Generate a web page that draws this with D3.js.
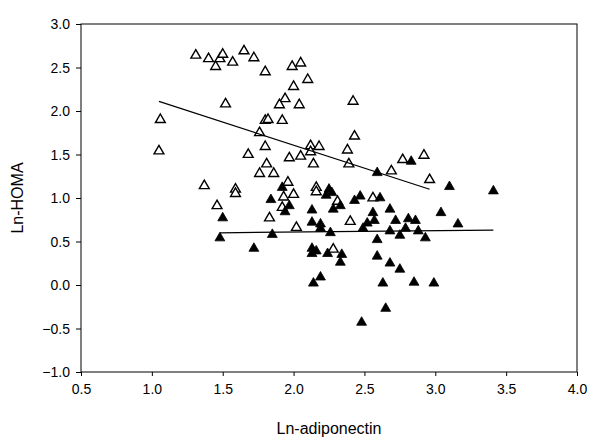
<!DOCTYPE html>
<html lang="en">
<head>
	<meta charset="UTF-8">
	<title>Ln-HOMA vs Ln-adiponectin</title>
	<script src="https://d3js.org/d3.v7.min.js"></script>
	<style>
		* { margin: 0px; padding: 0px; }
		body { background: #fff; }
		text { font-family: Arial, "Liberation Sans", sans-serif; fill: #000; }
	</style>
</head>
<body>
	<svg width="600" height="444"></svg>
	<script>
		// open triangles (upper group)
		var openX = [1.31, 1.40, 1.45, 1.48, 1.50, 1.57, 1.65, 1.72, 1.80, 1.99, 2.05, 2.10, 2.00, 1.94, 1.90,
			2.04, 1.52, 1.06, 1.05, 1.80, 1.82, 1.92, 1.76, 1.80, 1.68, 1.97, 1.81, 1.76, 1.86, 2.42,
			2.43, 2.12, 2.18, 2.12, 2.05, 2.14, 2.38, 2.39, 2.77, 2.92, 2.69, 2.96, 1.37, 1.59, 1.59,
			1.96, 1.93, 2.00, 2.16, 2.16, 2.31, 2.56, 1.46, 1.92, 1.83, 2.02, 2.40, 2.28];
		var openY = [2.64, 2.60, 2.51, 2.60, 2.65, 2.56, 2.69, 2.61, 2.45, 2.51, 2.55, 2.36, 2.28, 2.14, 2.07,
			2.07, 2.08, 1.90, 1.54, 1.89, 1.90, 1.89, 1.75, 1.59, 1.50, 1.46, 1.39, 1.28, 1.28, 2.11,
			1.71, 1.60, 1.59, 1.53, 1.48, 1.39, 1.55, 1.39, 1.44, 1.49, 1.31, 1.21, 1.14, 1.10, 1.05,
			1.18, 1.01, 1.04, 1.12, 1.07, 0.96, 1.00, 0.91, 0.89, 0.77, 0.66, 0.73, 0.41];

		// filled triangles (lower group)
		var fillX = [1.50, 1.48, 1.72, 1.85, 1.84, 1.92, 1.97, 1.94, 2.13, 2.13, 2.19, 2.19, 2.25, 2.23, 2.27,
			2.28, 2.33, 2.47, 2.43, 2.61, 2.26, 2.49, 2.52, 2.56, 2.57, 2.68, 2.72, 2.81, 2.86, 2.79,
			2.68, 2.75, 2.88, 2.93, 3.04, 3.16, 2.59, 2.83, 3.10, 3.41, 2.59, 2.13, 2.16, 2.13, 2.24,
			2.34, 2.33, 2.59, 2.68, 2.75, 2.19, 2.14, 2.63, 2.85, 2.99, 2.65, 2.48];
		var fillY = [0.77, 0.54, 0.42, 0.58, 0.98, 1.12, 0.91, 0.84, 0.86, 0.72, 0.70, 0.65, 1.10, 1.03, 1.06,
			0.87, 0.91, 1.02, 0.97, 1.00, 0.60, 0.65, 0.71, 0.83, 0.74, 0.87, 0.74, 0.76, 0.74, 0.65,
			0.62, 0.57, 0.62, 0.54, 0.83, 0.70, 1.29, 1.42, 1.13, 1.08, 0.52, 0.42, 0.39, 0.36, 0.36,
			0.35, 0.26, 0.33, 0.25, 0.18, 0.09, 0.02, 0.02, 0.03, 0.02, -0.27, -0.43];

		// regression lines, endpoints [x0, x1], [y0, y1]
		var openLineX = [1.05, 2.96], openLineY = [2.11, 1.10];
		var fillLineX = [1.48, 3.41], fillLineY = [0.60, 0.63];

		var xTicks = [0.5, 1.0, 1.5, 2.0, 2.5, 3.0, 3.5, 4.0];
		var yTicks = [-1.0, -0.5, 0.0, 0.5, 1.0, 1.5, 2.0, 2.5, 3.0];

		var svg = d3.select("svg");
		var margin = { left: 81, right: 23, top: 24, bottom: 72 };
		var width = 600 - margin.left - margin.right;
		var height = 444 - margin.top - margin.bottom;

		var x = d3.scaleLinear().domain([0.5, 4.0]).range([0, width]);
		var y = d3.scaleLinear().domain([-1.0, 3.0]).range([height, 0]);

		var g = svg.append("g").attr("transform", "translate(" + margin.left + "," + margin.top + ")");

		var xAxis = g.append("g")
			.attr("transform", "translate(0," + height + ")")
			.call(d3.axisBottom(x).tickValues(xTicks).tickFormat(d3.format(".1f")).tickSize(4).tickSizeOuter(0));
		var yAxis = g.append("g")
			.call(d3.axisLeft(y).tickValues(yTicks).tickFormat(d3.format(".1f")).tickSize(5).tickSizeOuter(0));

		[xAxis, yAxis].forEach(function (a) {
			a.select(".domain").remove();
			a.selectAll("line").attr("stroke", "#000");
			a.selectAll("text").style("font-size", "14px").style("font-family", "Arial, 'Liberation Sans', sans-serif");
		});
		xAxis.selectAll("text").attr("dy", "1.05em");
		yAxis.selectAll("text").attr("x", -11).attr("dy", "0.35em");

		// frame
		g.append("rect")
			.attr("width", width).attr("height", height)
			.attr("fill", "none").attr("stroke", "#000").attr("stroke-width", 1);

		var tri = d3.symbol().type(d3.symbolTriangle).size(42);

		g.append("g").selectAll("path")
			.data(d3.range(openX.length))
			.join("path")
			.attr("d", tri)
			.attr("transform", function (i) { return "translate(" + x(openX[i]) + "," + y(openY[i]) + ")"; })
			.attr("fill", "#fff").attr("stroke", "#000").attr("stroke-width", 1.4);

		g.append("g").selectAll("path")
			.data(d3.range(fillX.length))
			.join("path")
			.attr("d", tri)
			.attr("transform", function (i) { return "translate(" + x(fillX[i]) + "," + y(fillY[i]) + ")"; })
			.attr("fill", "#000").attr("stroke", "#000").attr("stroke-width", 0.8);

		var line = d3.line().x(function (d) { return x(d[0]); }).y(function (d) { return y(d[1]); });
		g.append("path")
			.attr("d", line(d3.zip(openLineX, openLineY)))
			.attr("fill", "none").attr("stroke", "#000").attr("stroke-width", 1.2);
		g.append("path")
			.attr("d", line(d3.zip(fillLineX, fillLineY)))
			.attr("fill", "none").attr("stroke", "#000").attr("stroke-width", 1.2);

		svg.append("text")
			.attr("x", margin.left + width / 2).attr("y", 434)
			.attr("text-anchor", "middle")
			.style("font-size", "16px")
			.text("Ln-adiponectin");

		svg.append("text")
			.attr("transform", "translate(23," + (margin.top + height / 2) + ") rotate(-90)")
			.attr("text-anchor", "middle")
			.style("font-size", "16px")
			.text("Ln-HOMA");
	</script>
</body>
</html>
